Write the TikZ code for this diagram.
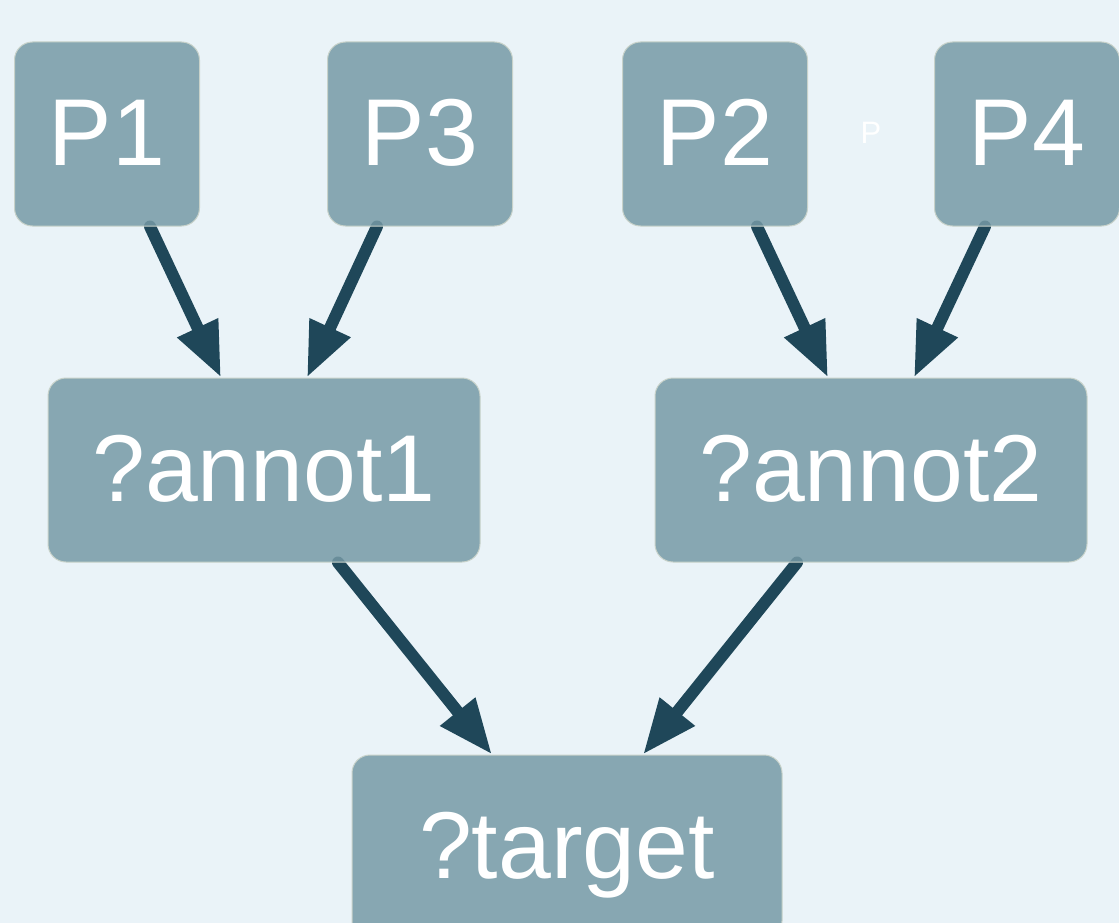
\documentclass[tikz,border=0pt]{standalone}
\usepackage{fontspec}
\setmainfont{Liberation Sans}
\usetikzlibrary{arrows.meta,positioning}

\definecolor{pagebg}{HTML}{EAF3F8}
\definecolor{boxfill}{HTML}{769AA6}
\definecolor{boxline}{HTML}{C8D2CA}
\definecolor{edgeblue}{HTML}{1F4759}

\pgfdeclarelayer{back}
\pgfdeclarelayer{edges}
\pgfsetlayers{back,edges,main}

\begin{document}
\begin{tikzpicture}[
    x=1pt, y=-1pt,
    varbox/.style={draw=boxline, line width=1pt, fill=boxfill, fill opacity=0.85, text opacity=1,
      rounded corners=18pt, inner sep=0pt, minimum height=184pt, text=white,
      font=\fontsize{95}{100}\selectfont, text height=74pt, text depth=12pt},
    predbox/.style={varbox, minimum width=185pt},
    annotbox/.style={varbox, minimum width=432pt},
    arrow/.style={-{Triangle[length=55pt,width=42pt]}, line width=12pt, line cap=round, edgeblue}
  ]
    \useasboundingbox (0,0) rectangle (1119,923);
    \begin{pgfonlayer}{back}
      \fill[pagebg] (0,0) rectangle (1119,923);
    \end{pgfonlayer}

    \node[predbox] (p1) at (107,134) {P1};
    \node[predbox] (p3) at (420,134) {P3};
    \node[predbox] (p2) at (715,134) {P2};
    \node[predbox] (p4) at (1027,134) {P4};
    \node[text=white, font=\fontsize{31}{36}\selectfont] (plabel) at (871,133) {P};

    \node[annotbox] (a1) at (264,470) {?annot1};
    \node[annotbox] (a2) at (871,470) {?annot2};
    \node[annotbox, minimum width=430pt] (tgt) at (567,847) {?target};

    \begin{pgfonlayer}{edges}
      \draw[arrow] ([xshift=43pt]p1.south) -- ([xshift=-43pt]a1.north);
      \draw[arrow] ([xshift=-43pt]p3.south) -- ([xshift=43pt]a1.north);
      \draw[arrow] ([xshift=42pt]p2.south) -- ([xshift=-43pt]a2.north);
      \draw[arrow] ([xshift=-42pt]p4.south) -- ([xshift=43pt]a2.north);
      \draw[arrow] ([xshift=74pt]a1.south) -- ([xshift=-75pt]tgt.north);
      \draw[arrow] ([xshift=-74pt]a2.south) -- ([xshift=76pt]tgt.north);
    \end{pgfonlayer}
  \end{tikzpicture}
\end{document}
